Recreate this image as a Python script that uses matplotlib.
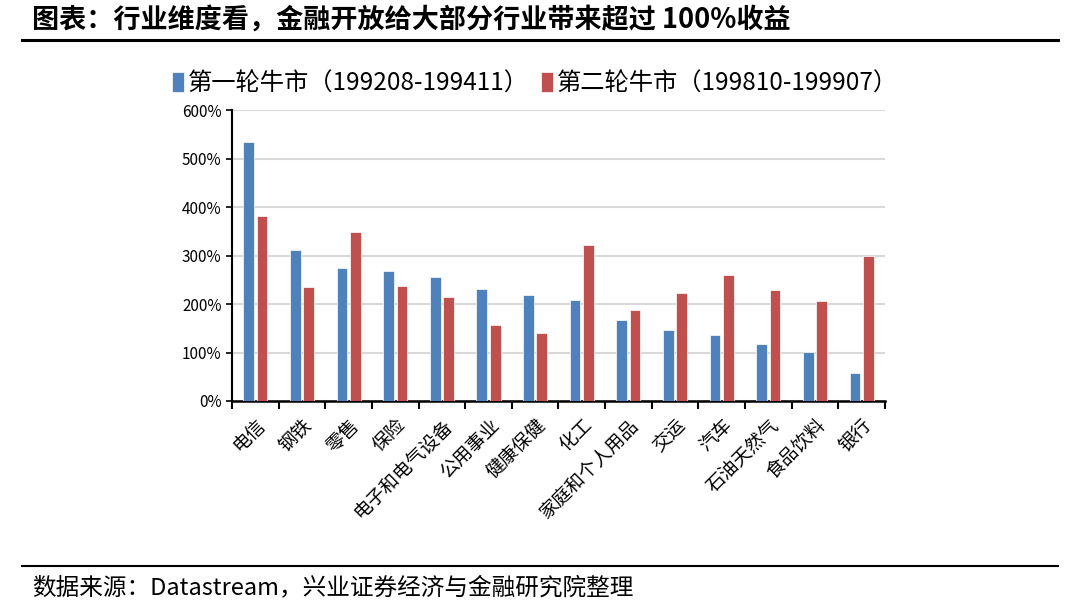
import numpy as np
import matplotlib.pyplot as plt
from matplotlib.ticker import FuncFormatter

plt.rcParams['font.family'] = ['Noto Sans CJK SC', 'DejaVu Sans']

# data (%)
industries = ["电信", "钢铁", "零售", "保险", "电子和电气设备", "公用事业", "健康保健",
              "化工", "家庭和个人用品", "交运", "汽车", "石油天然气", "食品饮料", "银行"]
first_bull = [534, 311, 274, 269, 256, 232, 218, 208, 167, 146, 137, 117, 101, 58]
second_bull = [382, 235, 348, 238, 214, 156, 141, 322, 188, 222, 260, 229, 206, 300]
series_names = ["第一轮牛市（199208-199411）", "第二轮牛市（199810-199907）"]

fig = plt.figure(figsize=(10.8, 6.03), dpi=100)
ax = fig.add_axes([0.2148, 0.335, 0.6046, 0.4824])

x = np.arange(len(industries))
w = 0.23
ax.bar(x - 0.143, first_bull, w, color="#4F81BD", edgecolor="white", linewidth=0.5,
       label=series_names[0], zorder=3)
ax.bar(x + 0.143, second_bull, w, color="#C0504D", edgecolor="white", linewidth=0.5,
       label=series_names[1], zorder=3)

ax.set_xlim(-0.5, len(industries) - 0.5)
ax.set_ylim(0, 600)
ax.set_yticks(np.arange(0, 601, 100))
ax.yaxis.set_major_formatter(FuncFormatter(lambda v, p: f"{int(v)}%"))
ax.tick_params(axis="y", labelsize=11, length=4, width=1.2, direction="out")
ax.grid(axis="y", color="#d9d9d9", linewidth=1.5, zorder=0)

ax.set_xticks(np.arange(-0.5, len(industries), 1.0))
ax.set_xticklabels([])
ax.set_xticks(x, minor=True)
ax.set_xticklabels(industries, minor=True, rotation=45, ha="right", va="top",
                   rotation_mode="anchor", fontsize=13.5)
ax.tick_params(axis="x", which="major", length=6, width=1.5, direction="out")
ax.tick_params(axis="x", which="minor", length=0, pad=10)

for s in ["top", "right"]:
    ax.spines[s].set_visible(False)
ax.spines["left"].set_linewidth(1.5)
ax.spines["bottom"].set_linewidth(1.8)

ax.legend(loc="center", bbox_to_anchor=(0.495, 0.862), bbox_transform=fig.transFigure,
          ncol=2, frameon=False, fontsize=17.5, handlelength=0.5, handleheight=0.9,
          handletextpad=0.15, columnspacing=0.5)

fig.text(0.03, 0.968, "图表：行业维度看，金融开放给大部分行业带来超过 100%收益",
         fontsize=19.5, fontweight="bold", va="center", ha="left")
fig.add_artist(plt.Line2D([0.02, 0.98], [0.933, 0.933], color="black", linewidth=2.2))
fig.add_artist(plt.Line2D([0.02, 0.98], [0.061, 0.061], color="black", linewidth=1.5))
fig.text(0.03, 0.025, "数据来源：Datastream，兴业证券经济与金融研究院整理",
         fontsize=17, va="center", ha="left")

fig.savefig("out.png", dpi=100)
